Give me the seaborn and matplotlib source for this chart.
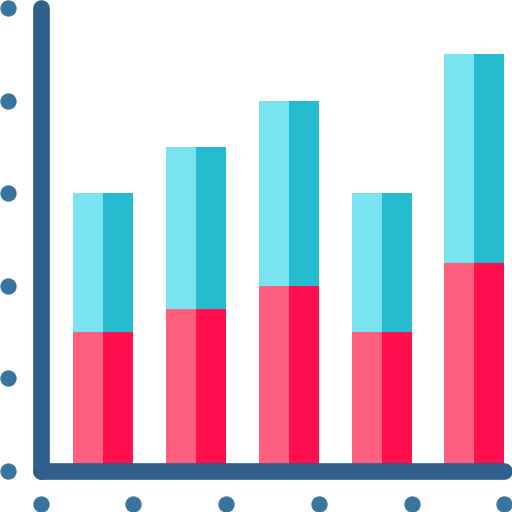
import matplotlib
matplotlib.use('Agg')
import matplotlib.pyplot as plt
import pandas as pd
import seaborn as sns

# Values in grid units, one unit is the gap between two dots
groups = [0, 1, 2, 3, 4]
red_values = [1.5, 1.75, 2.0, 1.5, 2.25]
total_values = [3.0, 3.5, 4.0, 3.0, 4.5]
shades = ['light', 'dark']
red_palette = {'light': '#FF5F7E', 'dark': '#FF0F4E'}
cyan_palette = {'light': '#7AE3F0', 'dark': '#26BCD0'}
axis_color = '#2F5F8A'
dot_color = '#38749E'
y_dots = [0, 1, 2, 3, 4, 5]
x_dots = [-0.677, 0.323, 1.323, 2.323, 3.323, 4.323]

sns.set_theme(style='white')

# Two rows per group, one for each half of the bar
df = pd.DataFrame({
    'group': groups * 2,
    'shade': ['light'] * 5 + ['dark'] * 5,
    'red': red_values * 2,
    'total': total_values * 2,
})

fig = plt.figure(figsize=(5.12, 5.12), dpi=100)
ax = fig.add_axes([0, 0, 1, 1])

# No stacking in seaborn, so draw the totals first and the reds over them
sns.barplot(data=df, x='group', y='total', hue='shade', hue_order=shades, palette=cyan_palette,
            width=0.647, gap=0, saturation=1, linewidth=0, legend=False, ax=ax)
sns.barplot(data=df, x='group', y='red', hue='shade', hue_order=shades, palette=red_palette,
            width=0.647, gap=0, saturation=1, linewidth=0, legend=False, ax=ax)

# Axis lines
ax.plot([x_dots[0], x_dots[0]], [0, 5], color=axis_color, lw=12, solid_capstyle='round', zorder=3)
ax.plot([x_dots[0], x_dots[-1]], [0, 0], color=axis_color, lw=12, solid_capstyle='round', zorder=3)

# Tick dots
sns.scatterplot(x=[-1.025] * len(y_dots), y=y_dots, color=dot_color, s=138, linewidth=0, zorder=4, clip_on=False, ax=ax)
sns.scatterplot(x=x_dots, y=[-0.355] * len(x_dots), color=dot_color, s=138, linewidth=0, zorder=4, clip_on=False, ax=ax)

ax.set_xlim(-1.114, 4.406)
ax.set_ylim(-0.443, 5.086)
ax.axis('off')

fig.savefig('out.png', dpi=100)
